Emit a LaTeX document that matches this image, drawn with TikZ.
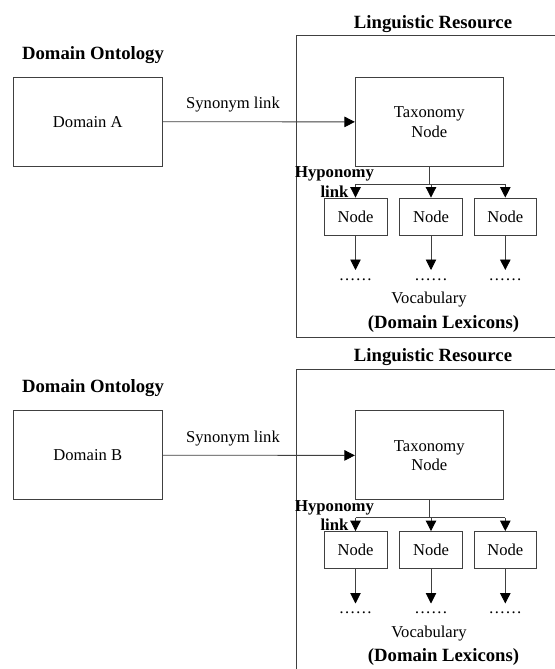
\documentclass[tikz,border=0pt]{standalone}
\usepackage{fontspec}
\setmainfont{Liberation Serif}
\usetikzlibrary{arrows.meta}
\tikzset{
  ln/.style={draw=black!75, line width=0.85pt},
  box/.style={ln, inner sep=0pt},
  lbl/.style={font=\fontsize{16.6}{19.5}\selectfont, inner sep=0pt, align=center},
  hdr/.style={font=\fontsize{18.7}{21}\selectfont\bfseries, inner sep=0pt},
  hyp/.style={font=\fontsize{16.7}{19.5}\selectfont\bfseries, inner sep=0pt, align=center},
  conn/.style={ln, -{Triangle[width=10.5pt,length=10.5pt,color=black]}},
}
\newcommand\drawhalf[4]{% #1 y offset, #2 letter, #3 suffix, #4 container path
\begin{scope}[yshift=-#1pt]
  \node[hdr] (lr#3) at (433,24) {Linguistic Resource};
  \draw[ln] #4;
  \node[hdr] (do#3) at (93,55) {Domain Ontology};
  \node[box, lbl, minimum width=149pt, minimum height=88.7pt] (dom#3) at (87.8,121.7) {Domain #2};
  \node[box, lbl, minimum width=148pt, minimum height=89pt] (tax#3) at (429.3,121.9) {Taxonomy\\Node};
  \draw[conn] (dom#3.east) -- (tax#3.west);
  \node[lbl] (syn#3) at (233,105) {Synonym link};
  \node[box, lbl, minimum width=63pt, minimum height=37pt] (na#3) at (355.5,216.5) {Node};
  \node[box, lbl, minimum width=63pt, minimum height=37pt] (nb#3) at (431,216.5) {Node};
  \node[box, lbl, minimum width=62pt, minimum height=37pt] (nc#3) at (505.3,216.5) {Node};
  \coordinate (br#3) at (429.3,184);
  \draw[ln] (tax#3.south) -- (br#3);
  \draw[ln] (na#3.north |- br#3) -- (nc#3.north |- br#3);
  \draw[conn] (na#3.north |- br#3) -- (na#3.north);
  \draw[conn] (nb#3.north |- br#3) -- (nb#3.north);
  \draw[conn] (nc#3.north |- br#3) -- (nc#3.north);
  \node[hyp] (hy#3) at (334.5,181.8) {Hyponomy\\link};
  \coordinate (ta#3) at (355.5,270);
  \coordinate (tb#3) at (431,270);
  \coordinate (tc#3) at (505.3,270);
  \draw[conn] (na#3.south) -- (ta#3);
  \draw[conn] (nb#3.south) -- (tb#3);
  \draw[conn] (nc#3.south) -- (tc#3);
  \node[lbl, anchor=base] (da#3) at (355.5,280) {……};
  \node[lbl, anchor=base] (db#3) at (431,280) {……};
  \node[lbl, anchor=base] (dc#3) at (505.3,280) {……};
  \node[lbl] (voc#3) at (429,300) {Vocabulary};
  \node[hdr] (lex#3) at (443.5,323.5) {(Domain Lexicons)};
\end{scope}}
\begin{document}
\begin{tikzpicture}[x=1pt,y=-1pt]
  \useasboundingbox (0,0) rectangle (554,669);
  \fill[white] (0,0) rectangle (554,669);
  \drawhalf{0}{A}{t}{(555,35.7) -- (296,35.7) -- (296,337.3) -- (555,337.3)}
  \drawhalf{333.5}{B}{b}{(555,35.8) -- (296,35.8) -- (296,340)}
\end{tikzpicture}
\end{document}
